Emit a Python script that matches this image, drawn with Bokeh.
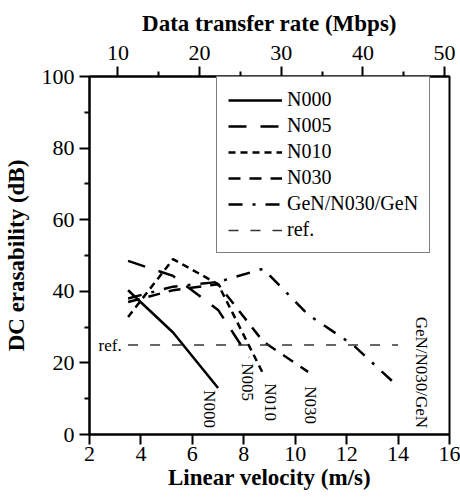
import math
from bokeh.plotting import figure
from bokeh.models import Range1d, LinearAxis, FixedTicker, Legend, LegendItem, ColumnDataSource
from bokeh.embed import file_html
from bokeh.resources import INLINE
from bokeh.core.properties import value

# ---- data ----
n000_x = [3.5, 5.25, 7.0]
n000_y = [40.3, 28.5, 13.0]
n005_x = [3.5, 5.25, 7.0, 8.2]
n005_y = [48.5, 44.3, 34.8, 21.6]
n010_x = [3.5, 5.25, 7.0, 8.75]
n010_y = [32.8, 49.0, 42.0, 17.0]
n030_x = [3.5, 5.25, 7.0, 8.75, 10.5]
n030_y = [37.0, 40.3, 42.0, 26.0, 17.5]
gen_x = [3.5, 5.25, 7.0, 8.75, 10.5, 12.25, 14.0]
gen_y = [38.0, 41.3, 42.6, 46.3, 33.5, 25.0, 13.4]
ref_x = [3.5, 14.0]
ref_y = [25, 25]

series_names = ["N000", "N005", "N010", "N030", "GeN/N030/GeN"]
ref_name = "ref."

x_ticks = [2, 4, 6, 8, 10, 12, 14, 16]
y_ticks = [0, 20, 40, 60, 80, 100]
y_minor = [10, 30, 50, 70, 90]
top_ticks = [10, 20, 30, 40, 50]
top_minor = [15, 25, 35, 45]

# annotation anchors for the rotated curve labels (x, y of text start)
label_x = [6.67, 8.13, 9.03, 10.59, 14.93]
label_y = [12.4, 19.9, 14.3, 13.5, 32.9]

FONT = "Liberation Serif"

p = figure(width=460, height=500, output_backend="svg", toolbar_location=None,
           x_range=Range1d(2, 16), y_range=Range1d(0, 100),
           min_border_left=88, min_border_right=11, min_border_top=76, min_border_bottom=66)
p.xgrid.visible = False
p.ygrid.visible = False
p.outline_line_color = "black"
p.outline_line_width = 2
p.background_fill_color = "white"
p.border_fill_color = "white"

p.extra_x_ranges = {"top": Range1d(6.52, 50.6)}
top_axis = LinearAxis(x_range_name="top", axis_label="Data transfer rate (Mbps)",
                      ticker=FixedTicker(ticks=top_ticks, minor_ticks=top_minor))
p.add_layout(top_axis, "above")

xa = p.below[0]
ya = p.left[0]

for ax in [xa, ya, top_axis]:
    ax.axis_line_width = 2
    ax.axis_line_color = "black"
    ax.major_tick_line_width = 2
    ax.minor_tick_line_width = 2
    ax.major_tick_line_color = "black"
    ax.minor_tick_line_color = "black"
    ax.major_tick_in = 0
    ax.minor_tick_in = 0
    ax.major_tick_out = 10
    ax.minor_tick_out = 5
    ax.major_label_text_font = FONT
    ax.major_label_text_font_size = "22px"
    ax.major_label_text_color = "black"
    ax.axis_label_text_font = FONT
    ax.axis_label_text_font_size = "23px"
    ax.axis_label_text_font_style = "bold"
    ax.axis_label_text_color = "black"
    ax.major_label_standoff = 3
    ax.axis_label_standoff = 3

top_axis.major_label_standoff = 7
top_axis.axis_label_standoff = 7
ya.major_label_standoff = 5
ya.axis_label_standoff = 10
xa.major_label_standoff = 2
xa.axis_label_standoff = 1

xa.ticker = FixedTicker(ticks=x_ticks, minor_ticks=[])
xa.axis_label = "Linear velocity (m/s)"
ya.ticker = FixedTicker(ticks=y_ticks, minor_ticks=y_minor)
ya.axis_label = "DC erasability (dB)"

r0 = p.line(n000_x, n000_y, line_color="black", line_width=2.5)
r1 = p.line(n005_x, n005_y, line_color="black", line_width=2.5, line_dash="18 14")
r2 = p.line(n010_x, n010_y, line_color="black", line_width=2.5, line_dash="7 5")
r3 = p.line(n030_x, n030_y, line_color="black", line_width=2.5, line_dash="12 9")
r4 = p.line(gen_x, gen_y, line_color="black", line_width=2.5, line_dash="14 10 3 10")
rr = p.line(ref_x, ref_y, line_color="#333333", line_width=1.3, line_dash="10 12")

src = ColumnDataSource(dict(x=label_x, y=label_y, t=series_names))
p.text(x="x", y="y", text="t", source=src, angle=-math.pi / 2,
       text_align="left", text_baseline="middle", text_font=value(FONT),
       text_font_size="17px", text_color="black")

p.text(x=[ref_x[0] - 0.25], y=[ref_y[0]], text=[ref_name], text_align="right",
       text_baseline="middle", text_font=value(FONT), text_font_size="17px",
       text_color="black")

legend = Legend(items=[
    LegendItem(label=series_names[0], renderers=[r0]),
    LegendItem(label=series_names[1], renderers=[r1]),
    LegendItem(label=series_names[2], renderers=[r2]),
    LegendItem(label=series_names[3], renderers=[r3]),
    LegendItem(label=series_names[4], renderers=[r4]),
    LegendItem(label=ref_name, renderers=[rr]),
], location=(127, 181))
legend.label_text_font = FONT
legend.label_text_font_size = "20px"
legend.label_text_color = "black"
legend.padding = 11
legend.spacing = 3
legend.label_height = 22
legend.glyph_height = 22
legend.glyph_width = 54
legend.label_standoff = 5
legend.border_line_color = "black"
legend.border_line_width = 1.5
legend.background_fill_alpha = 1
legend.margin = 0
p.add_layout(legend)

open("out.html", "w").write(file_html(p, INLINE))
